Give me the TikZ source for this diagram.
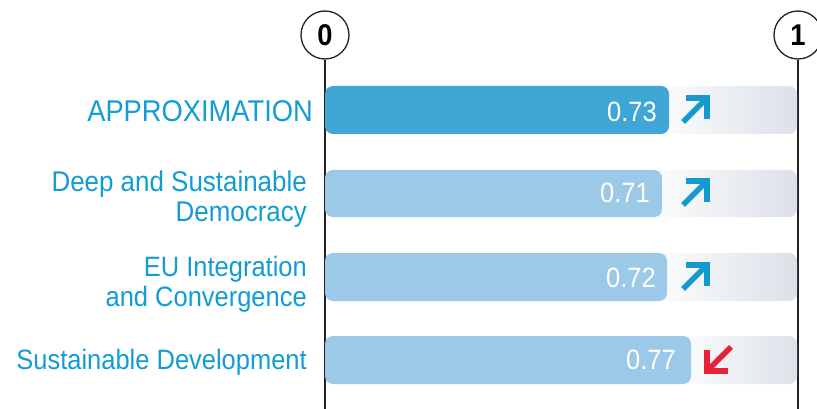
\documentclass[tikz,border=0pt]{standalone}
\usepackage{fontspec}
\setmainfont[FakeStretch=0.91]{Liberation Sans}
\definecolor{lbl}{HTML}{119CD4}
\definecolor{barA}{HTML}{3FA6D6}
\definecolor{barB}{HTML}{9DC9E8}
\definecolor{trackL}{HTML}{FCFDFD}
\definecolor{trackR}{HTML}{DCE1E9}
\definecolor{upc}{HTML}{1699CF}
\definecolor{dnc}{HTML}{E8203A}
\definecolor{axisc}{HTML}{222222}
\tikzset{
  lab/.style={anchor=base east, inner sep=0pt, text=lbl, font=\fontsize{28}{29}\selectfont},
  val/.style={anchor=base east, inner sep=0pt, text=white, font=\fontsize{28}{29}\selectfont},
  axisline/.style={draw=axisc, line width=1.3pt},
  tick/.style={circle, draw=axisc, line width=1.3pt, fill=white, minimum size=48pt, inner sep=0pt, font=\bfseries\fontsize{30}{30}\selectfont},
  track/.style={left color=trackL, right color=trackR, rounded corners=8pt},
  arrowline/.style={line width=5.5pt, line join=miter, miter limit=10},
}
\begin{document}
\begin{tikzpicture}[x=1pt,y=-1pt]
\useasboundingbox (0,0) rectangle (817,409);
\begin{scope}
\clip (0,0) rectangle (817,409);
% axis
\coordinate (z0) at (325,409);
\coordinate (z1) at (798,409);
\node[tick] (c0) at (325,35) {0};
\node[tick] (c1) at (798,35) {1};
\draw[axisline] (c0.south) -- (z0);
\draw[axisline] (c1.south) -- (z1);
\end{scope}
% tracks
\shade[track] (655,86) rectangle (797,134);
\shade[track] (648,170) rectangle (797,217);
\shade[track] (653,253) rectangle (797,301);
\shade[track] (677,336) rectangle (797,384);
% bars
\fill[barA, rounded corners=8pt] (325,86) rectangle (669,134);
\fill[barB, rounded corners=8pt] (325,170) rectangle (662,217);
\fill[barB, rounded corners=8pt] (325,253) rectangle (667,301);
\fill[barB, rounded corners=8pt] (325,336) rectangle (691,384);
% values
\node[val] (v1) at (657,122) {0.73};
\node[val] (v2) at (650,203) {0.71};
\node[val] (v3) at (656,287) {0.72};
\node[val] (v4) at (676,369) {0.77};
% labels
\node[lab, font=\fontsize{30}{31}\selectfont] (l1) at (313,122) {APPROXIMATION};
\node[lab, font=\fontsize{28.5}{29}\selectfont] (l2a) at (307,191) {Deep and Sustainable};
\node[lab, font=\fontsize{28.5}{29}\selectfont] (l2b) at (307,221) {Democracy};
\node[lab] (l3a) at (307,276) {EU Integration};
\node[lab] (l3b) at (307,306) {and Convergence};
\node[lab] (l4) at (307,369) {Sustainable Development};
% trend arrows
\coordinate (t1) at (683,122); \coordinate (h1) at (707,98);
\draw[arrowline, upc] (t1) -- (h1);
\draw[arrowline, upc] ([xshift=-21pt]h1) -- (h1) -- ([yshift=-21pt]h1);
\coordinate (t2) at (683,205); \coordinate (h2) at (707,181);
\draw[arrowline, upc] (t2) -- (h2);
\draw[arrowline, upc] ([xshift=-21pt]h2) -- (h2) -- ([yshift=-21pt]h2);
\coordinate (t3) at (683,289); \coordinate (h3) at (707,265);
\draw[arrowline, upc] (t3) -- (h3);
\draw[arrowline, upc] ([xshift=-21pt]h3) -- (h3) -- ([yshift=-21pt]h3);
\coordinate (t4) at (731,347); \coordinate (h4) at (707,371);
\draw[arrowline, dnc] (t4) -- (h4);
\draw[arrowline, dnc] ([xshift=21pt]h4) -- (h4) -- ([yshift=21pt]h4);
\end{tikzpicture}
\end{document}
